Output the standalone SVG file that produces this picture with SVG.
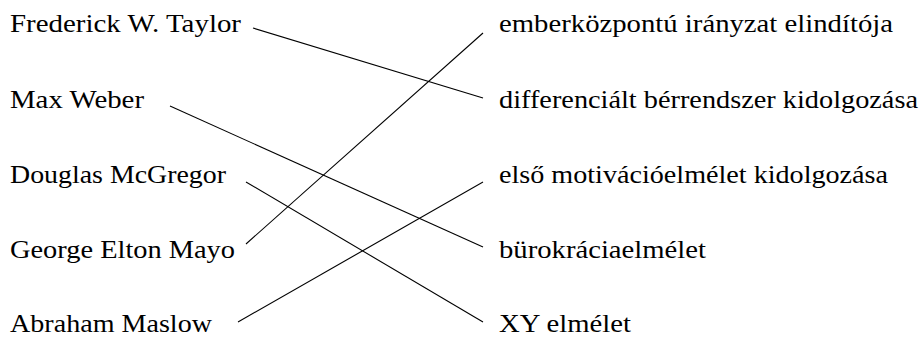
<svg xmlns="http://www.w3.org/2000/svg" width="922" height="338" viewBox="0 0 922 338">
<style>
text{font-family:"Liberation Serif","DejaVu Serif",serif;font-size:25px;fill:#000}
.c line{stroke:#000;stroke-width:1.1}
</style>
<rect width="922" height="338" fill="#fff"/>
<g id="left-taylor"><text x="10" y="32" textLength="231" lengthAdjust="spacingAndGlyphs">Frederick W. Taylor</text></g>
<g id="left-weber"><text x="10" y="108" textLength="134" lengthAdjust="spacingAndGlyphs">Max Weber</text></g>
<g id="left-mcgregor"><text x="10" y="183" textLength="216" lengthAdjust="spacingAndGlyphs">Douglas McGregor</text></g>
<g id="left-mayo"><text x="10" y="258" textLength="225" lengthAdjust="spacingAndGlyphs">George Elton Mayo</text></g>
<g id="left-maslow"><text x="10" y="332" textLength="202" lengthAdjust="spacingAndGlyphs">Abraham Maslow</text></g>
<g id="right-ember"><text x="499" y="32" textLength="394" lengthAdjust="spacingAndGlyphs">emberközpontú irányzat elindítója</text></g>
<g id="right-differencialt"><text x="499" y="108" textLength="419" lengthAdjust="spacingAndGlyphs">differenciált bérrendszer kidolgozása</text></g>
<g id="right-elso"><text x="499" y="183" textLength="389" lengthAdjust="spacingAndGlyphs">első motivációelmélet kidolgozása</text></g>
<g id="right-burokracia"><text x="499" y="258" textLength="207" lengthAdjust="spacingAndGlyphs">bürokráciaelmélet</text></g>
<g id="right-xy"><text x="499" y="332" textLength="132" lengthAdjust="spacingAndGlyphs">XY elmélet</text></g>
<g id="connectors" class="c">
<line x1="253" y1="28" x2="483" y2="98"/>
<line x1="170" y1="106" x2="483" y2="247"/>
<line x1="246" y1="182" x2="483" y2="322"/>
<line x1="246" y1="244" x2="483" y2="33"/>
<line x1="238" y1="322" x2="483" y2="182"/>
</g>
</svg>
